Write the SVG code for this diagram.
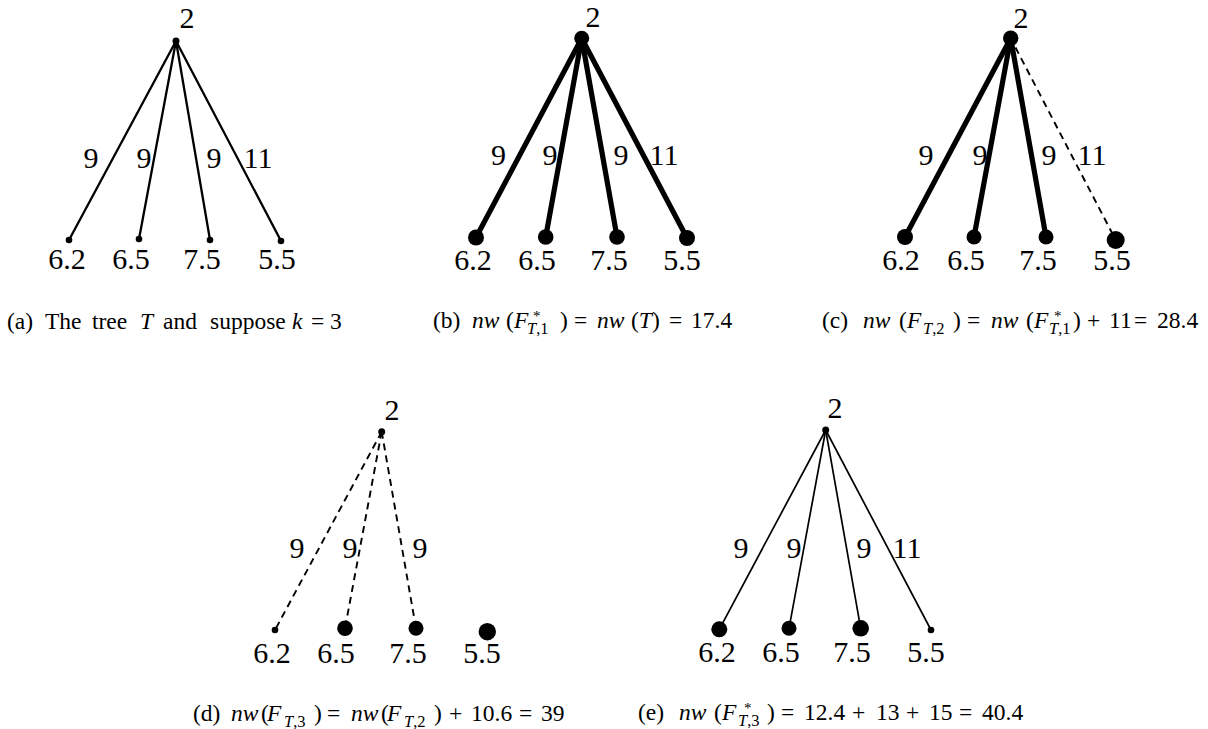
<svg xmlns="http://www.w3.org/2000/svg" width="1208" height="729" viewBox="0 0 1208 729">
<style>
.lbl{font-family:"Liberation Serif",serif;font-size:30px;text-anchor:middle;fill:#000}
.cap{font-family:"Liberation Serif",serif;font-size:23.5px;fill:#000}
.it{font-style:italic}
.sm{font-size:16.5px}
.st{font-size:15px}
.thin{stroke:#000;stroke-width:2.3;fill:none;stroke-linecap:round}
.thinner{stroke:#000;stroke-width:1.7;fill:none;stroke-linecap:round}
.thick{stroke:#000;stroke-width:5.2;fill:none;stroke-linecap:round}
.dash{stroke:#000;stroke-width:1.9;fill:none;stroke-dasharray:7 5}
circle{fill:#000}
</style>
<rect width="1208" height="729" fill="#fff"/>

<!-- Panel (a) -->
<g id="panel-a">
  <g id="a-edges">
    <line class="thin" x1="176" y1="41" x2="69" y2="240"/>
    <line class="thin" x1="176" y1="41" x2="139" y2="239"/>
    <line class="thin" x1="176" y1="41" x2="210" y2="240"/>
    <line class="thin" x1="176" y1="41" x2="281" y2="241"/>
    <text class="lbl" x="91" y="168">9</text>
    <text class="lbl" x="144" y="168">9</text>
    <text class="lbl" x="214" y="168">9</text>
    <text class="lbl" x="258" y="168">11</text>
  </g>
  <g id="a-root"><circle cx="176" cy="41" r="3.5"/><text class="lbl" x="187" y="28">2</text></g>
  <g id="a-n1"><circle cx="69" cy="240" r="3.3"/><text class="lbl" x="67" y="269">6.2</text></g>
  <g id="a-n2"><circle cx="139" cy="239" r="3.3"/><text class="lbl" x="131" y="269">6.5</text></g>
  <g id="a-n3"><circle cx="210" cy="240" r="3.3"/><text class="lbl" x="202" y="269">7.5</text></g>
  <g id="a-n4"><circle cx="281" cy="241" r="3.3"/><text class="lbl" x="277" y="269">5.5</text></g>
  <text class="cap" y="329"><tspan x="7">(a)</tspan><tspan x="45">The</tspan><tspan x="92">tree</tspan><tspan x="140" class="it">T</tspan><tspan x="163">and</tspan><tspan x="210">suppose</tspan><tspan x="292" class="it">k</tspan><tspan x="311">=</tspan><tspan x="330">3</tspan></text>
</g>

<!-- Panel (b) -->
<g id="panel-b">
  <g id="b-edges">
    <line class="thick" x1="581.7" y1="38.3" x2="476" y2="237.5"/>
    <line class="thick" x1="581.7" y1="38.3" x2="545.7" y2="237"/>
    <line class="thick" x1="581.7" y1="38.3" x2="617" y2="237"/>
    <line class="thick" x1="581.7" y1="38.3" x2="687" y2="238"/>
    <text class="lbl" x="498.5" y="165">9</text>
    <text class="lbl" x="550" y="165">9</text>
    <text class="lbl" x="621" y="165">9</text>
    <text class="lbl" x="664" y="165">11</text>
  </g>
  <g id="b-root"><circle cx="581.7" cy="38.3" r="7.5"/><text class="lbl" x="593" y="27">2</text></g>
  <g id="b-n1"><circle cx="476" cy="237.5" r="8"/><text class="lbl" x="473" y="270">6.2</text></g>
  <g id="b-n2"><circle cx="545.7" cy="237" r="7.8"/><text class="lbl" x="537" y="270">6.5</text></g>
  <g id="b-n3"><circle cx="617" cy="237" r="7.8"/><text class="lbl" x="609" y="270">7.5</text></g>
  <g id="b-n4"><circle cx="687" cy="238" r="8"/><text class="lbl" x="682" y="270">5.5</text></g>
  <text class="cap" y="328"><tspan x="433">(b)</tspan><tspan x="472" class="it">nw</tspan><tspan x="506">(</tspan><tspan x="514" class="it">F</tspan><tspan x="533" y="321" class="st">*</tspan><tspan x="527" y="334" class="sm it">T</tspan><tspan class="sm">,1</tspan><tspan x="560" y="328">)</tspan><tspan x="574">=</tspan><tspan x="597" class="it">nw</tspan><tspan x="631">(</tspan><tspan class="it">T</tspan><tspan>)</tspan><tspan x="669">=</tspan><tspan x="691">17.4</tspan></text>
</g>

<!-- Panel (c) -->
<g id="panel-c">
  <g id="c-edges">
    <line class="thick" x1="1010.7" y1="38.3" x2="905" y2="237"/>
    <line class="thick" x1="1010.7" y1="38.3" x2="974" y2="237"/>
    <line class="thick" x1="1010.7" y1="38.3" x2="1046" y2="237"/>
    <line class="dash" x1="1015.5" y1="47.5" x2="1115.7" y2="240"/>
    <text class="lbl" x="926" y="165">9</text>
    <text class="lbl" x="980" y="165">9</text>
    <text class="lbl" x="1049" y="165">9</text>
    <text class="lbl" x="1092" y="165">11</text>
  </g>
  <g id="c-root"><circle cx="1010.7" cy="38.3" r="7.7"/><text class="lbl" x="1021" y="28">2</text></g>
  <g id="c-n1"><circle cx="905" cy="237" r="8"/><text class="lbl" x="901" y="270">6.2</text></g>
  <g id="c-n2"><circle cx="974" cy="237" r="7.5"/><text class="lbl" x="966" y="270">6.5</text></g>
  <g id="c-n3"><circle cx="1046" cy="237" r="7.5"/><text class="lbl" x="1038" y="270">7.5</text></g>
  <g id="c-n4"><circle cx="1115.7" cy="240" r="9"/><text class="lbl" x="1112" y="270">5.5</text></g>
  <text class="cap" y="328"><tspan x="822">(c)</tspan><tspan x="863" class="it">nw</tspan><tspan x="899">(</tspan><tspan x="907" class="it">F</tspan><tspan x="923" y="334" class="sm it">T</tspan><tspan class="sm">,2</tspan><tspan x="953" y="328">)</tspan><tspan x="967">=</tspan><tspan x="991" class="it">nw</tspan><tspan x="1026">(</tspan><tspan x="1034" class="it">F</tspan><tspan x="1054" y="321" class="st">*</tspan><tspan x="1049" y="334" class="sm it">T</tspan><tspan class="sm">,1</tspan><tspan x="1073" y="328">)</tspan><tspan x="1087">+</tspan><tspan x="1109">11</tspan><tspan x="1134">=</tspan><tspan x="1157">28.4</tspan></text>
</g>

<!-- Panel (d) -->
<g id="panel-d">
  <g id="d-edges">
    <line class="dash" x1="381.7" y1="431.7" x2="275" y2="630"/>
    <line class="dash" x1="381.7" y1="431.7" x2="345" y2="628.3"/>
    <line class="dash" x1="381.7" y1="431.7" x2="416" y2="628.3"/>
    <text class="lbl" x="297" y="558">9</text>
    <text class="lbl" x="350" y="558">9</text>
    <text class="lbl" x="420" y="558">9</text>
  </g>
  <g id="d-root"><circle cx="381.7" cy="431.7" r="3.5"/><text class="lbl" x="392" y="420">2</text></g>
  <g id="d-n1"><circle cx="275" cy="630" r="3.3"/><text class="lbl" x="272" y="663">6.2</text></g>
  <g id="d-n2"><circle cx="345" cy="628.3" r="7.8"/><text class="lbl" x="336" y="663">6.5</text></g>
  <g id="d-n3"><circle cx="416" cy="628.3" r="7.5"/><text class="lbl" x="408" y="663">7.5</text></g>
  <g id="d-n4"><circle cx="487.3" cy="631.7" r="8.7"/><text class="lbl" x="482" y="663">5.5</text></g>
  <text class="cap" y="720.5"><tspan x="193">(d)</tspan><tspan x="231" class="it">nw</tspan><tspan x="261">(</tspan><tspan x="267" class="it">F</tspan><tspan x="284" y="726.5" class="sm it">T</tspan><tspan class="sm">,3</tspan><tspan x="314" y="720.5">)</tspan><tspan x="327">=</tspan><tspan x="351" class="it">nw</tspan><tspan x="381">(</tspan><tspan x="387" class="it">F</tspan><tspan x="404" y="726.5" class="sm it">T</tspan><tspan class="sm">,2</tspan><tspan x="434" y="720.5">)</tspan><tspan x="449">+</tspan><tspan x="471">10.6</tspan><tspan x="519">=</tspan><tspan x="541">39</tspan></text>
</g>

<!-- Panel (e) -->
<g id="panel-e">
  <g id="e-edges">
    <line class="thinner" x1="825.7" y1="430" x2="719.3" y2="629.3"/>
    <line class="thinner" x1="825.7" y1="430" x2="789" y2="628.3"/>
    <line class="thinner" x1="825.7" y1="430" x2="860.7" y2="628.3"/>
    <line class="thinner" x1="825.7" y1="430" x2="931" y2="630"/>
    <text class="lbl" x="741" y="558">9</text>
    <text class="lbl" x="794" y="558">9</text>
    <text class="lbl" x="864" y="558">9</text>
    <text class="lbl" x="907" y="558">11</text>
  </g>
  <g id="e-root"><circle cx="825.7" cy="430" r="3.5"/><text class="lbl" x="835" y="418">2</text></g>
  <g id="e-n1"><circle cx="719.3" cy="629.3" r="8"/><text class="lbl" x="717" y="662">6.2</text></g>
  <g id="e-n2"><circle cx="789" cy="628.3" r="7.5"/><text class="lbl" x="781" y="662">6.5</text></g>
  <g id="e-n3"><circle cx="860.7" cy="628.3" r="8.3"/><text class="lbl" x="852" y="662">7.5</text></g>
  <g id="e-n4"><circle cx="931" cy="630" r="3.3"/><text class="lbl" x="926" y="662">5.5</text></g>
  <text class="cap" y="720"><tspan x="638">(e)</tspan><tspan x="679" class="it">nw</tspan><tspan x="714">(</tspan><tspan x="722" class="it">F</tspan><tspan x="744" y="713" class="st">*</tspan><tspan x="738" y="726" class="sm it">T</tspan><tspan class="sm">,3</tspan><tspan x="767" y="720">)</tspan><tspan x="781">=</tspan><tspan x="804">12.4</tspan><tspan x="852">+</tspan><tspan x="876">13</tspan><tspan x="906">+</tspan><tspan x="929">15</tspan><tspan x="959">=</tspan><tspan x="982">40.4</tspan></text>
</g>
</svg>
